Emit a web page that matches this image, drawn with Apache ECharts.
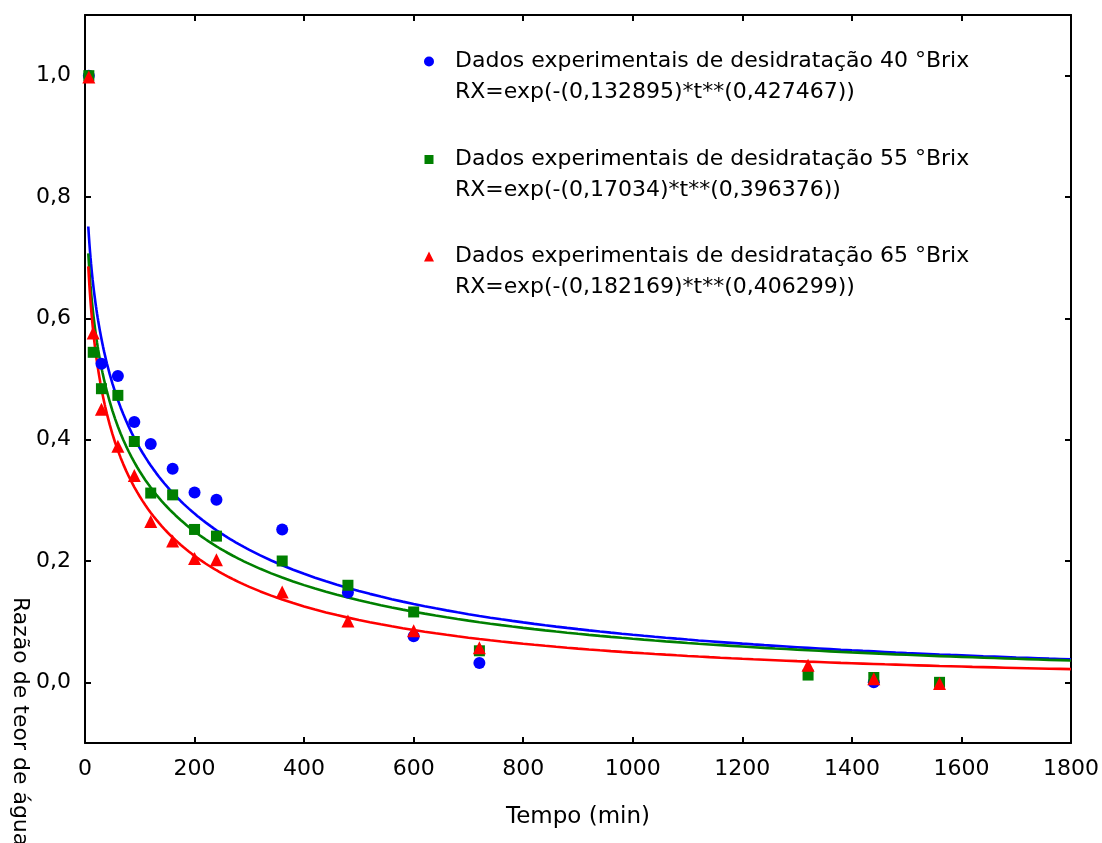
<!DOCTYPE html>
<html>
<head>
<meta charset="utf-8">
<script src="https://cdn.jsdelivr.net/npm/echarts@6/dist/echarts.min.js"></script>
<style>
  html, body { margin: 0; padding: 0; background: #ffffff; }
  #chart { width: 1102px; height: 843px; }
</style>
</head>
<body>
<div id="chart"></div>
<script>
// Drying runs: moisture ratio vs. time at three syrup concentrations
const seriesNames = [
  'Dados experimentais de desidratação 40 °Brix',
  'Dados experimentais de desidratação 55 °Brix',
  'Dados experimentais de desidratação 65 °Brix'
];
const curveNames = [
  'RX=exp(-(0,132895)*t**(0,427467))',
  'RX=exp(-(0,17034)*t**(0,396376))',
  'RX=exp(-(0,182169)*t**(0,406299))'
];
const colors = ['#0000ff', '#008000', '#ff0000'];
const symbols = ['circle', 'rect', 'triangle'];

// Sampling times (min)
const times = [7, 15, 30, 60, 90, 120, 160, 200, 240, 360, 480, 600, 720, 1320, 1440, 1560];

// Measured moisture ratios
const rx40 = [1.0, null, 0.525, 0.505, 0.429, 0.393, 0.352, 0.313, 0.301, 0.252, 0.148, 0.076, 0.032, null, 0.0, null];
const rx55 = [1.0, 0.544, 0.484, 0.473, 0.397, 0.312, 0.309, 0.252, 0.241, 0.200, 0.160, 0.116, 0.052, 0.012, 0.008, 0.0];
const rx65 = [0.998, 0.576, 0.450, 0.389, 0.341, 0.265, 0.233, 0.204, 0.202, 0.149, 0.101, 0.085, 0.057, 0.028, 0.006, -0.002];

// Page model parameters RX = exp(-k * t^n)
const kParams = [0.132895, 0.17034, 0.182169];
const nParams = [0.427467, 0.396376, 0.406299];
const curveStart = 6;
const curveEnd = 1800;

// Axis tick labels
const xTicks = [0, 200, 400, 600, 800, 1000, 1200, 1400, 1600, 1800];
const yTicks = [0.0, 0.2, 0.4, 0.6, 0.8, 1.0];

const measured = [rx40, rx55, rx65];

function pagePoints(k, n) {
  const pts = [];
  let t = curveStart;
  while (t <= curveEnd) {
    pts.push([t, Math.exp(-k * Math.pow(t, n))]);
    t += t < 40 ? 1 : (t < 300 ? 5 : 20);
  }
  pts.push([curveEnd, Math.exp(-k * Math.pow(curveEnd, n))]);
  return pts;
}

const FONT = 'DejaVu Sans';
const axisLineStyle = { color: '#000', width: 2 };

const series = [];
measured.forEach(function (vals, i) {
  series.push({
    name: curveNames[i],
    type: 'line',
    data: pagePoints(kParams[i], nParams[i]),
    showSymbol: false,
    smooth: false,
    lineStyle: { color: colors[i], width: 2.6 },
    itemStyle: { color: colors[i] },
    z: 2,
    silent: true
  });
});
measured.forEach(function (vals, i) {
  const pts = [];
  times.forEach(function (t, j) {
    if (vals[j] !== null) pts.push([t, vals[j]]);
  });
  series.push({
    name: seriesNames[i],
    type: 'scatter',
    data: pts,
    symbol: symbols[i],
    symbolSize: i === 2 ? 13 : (i === 0 ? 12 : 11),
    itemStyle: { color: colors[i], opacity: 1 },
    z: 3 + i
  });
});

// Legend: one block per run (marker + run name, then the fitted equation)
const legendTops = [46, 144, 241];
const legendIconSizes = [10, 9, 10];
const legends = legendTops.map(function (top, i) {
  const s = legendIconSizes[i];
  return {
    orient: 'vertical',
    left: 429 - s / 2,
    top: top,
    padding: 0,
    itemGap: 0,
    itemWidth: s,
    itemHeight: s,
    selectedMode: false,
    textStyle: { fontFamily: FONT, fontSize: 22, color: '#000', lineHeight: 31,
      padding: [0, 0, 0, 455 - (429 - s / 2) - s - 5] },
    data: [
      { name: seriesNames[i], icon: symbols[i] },
      { name: curveNames[i], icon: 'none' }
    ]
  };
});

const chart = echarts.init(document.getElementById('chart'), null, { renderer: 'canvas' });
chart.setOption({
  backgroundColor: '#ffffff',
  animation: false,
  grid: { left: 85, right: 31, top: 15, bottom: 100, containLabel: false },
  legend: legends,
  xAxis: [
    {
      type: 'value', position: 'bottom', min: 0, max: 1800, interval: 200,
      axisLine: { show: true, onZero: false, lineStyle: axisLineStyle },
      axisTick: { show: true, inside: true, length: 6, lineStyle: axisLineStyle },
      axisLabel: { show: true, margin: 15, fontFamily: FONT, fontSize: 22, color: '#000',
        customValues: xTicks, formatter: function (v) { return String(v); } },
      splitLine: { show: false },
      name: 'Tempo (min)', nameLocation: 'middle', nameGap: 63,
      nameTextStyle: { fontFamily: FONT, fontSize: 23, color: '#000' }
    },
    {
      type: 'value', position: 'top', min: 0, max: 1800, interval: 200,
      axisLine: { show: true, onZero: false, lineStyle: axisLineStyle },
      axisTick: { show: true, inside: true, length: 6, lineStyle: axisLineStyle },
      axisLabel: { show: false },
      splitLine: { show: false }
    }
  ],
  yAxis: [
    {
      type: 'value', position: 'left', min: -0.1, max: 1.1,
      axisLine: { show: true, onZero: false, lineStyle: axisLineStyle },
      axisTick: { show: true, inside: true, length: 6, lineStyle: axisLineStyle, customValues: yTicks },
      axisLabel: { show: true, margin: 14, fontFamily: FONT, fontSize: 22, color: '#000',
        customValues: yTicks,
        formatter: function (v) { return v.toFixed(1).replace('.', ','); } },
      splitLine: { show: false }
    },
    {
      type: 'value', position: 'right', min: -0.1, max: 1.1,
      axisLine: { show: true, onZero: false, lineStyle: axisLineStyle },
      axisTick: { show: true, inside: true, length: 6, lineStyle: axisLineStyle, customValues: yTicks },
      axisLabel: { show: false, customValues: yTicks },
      splitLine: { show: false }
    }
  ],
  graphic: [
    {
      type: 'text',
      x: 20, y: 597,
      rotation: -Math.PI / 2,
      style: {
        text: 'Razão de teor de água',
        fontFamily: FONT, fontSize: 22, fill: '#000',
        textAlign: 'left', textVerticalAlign: 'middle'
      }
    }
  ],
  series: series
});
</script>
</body>
</html>
